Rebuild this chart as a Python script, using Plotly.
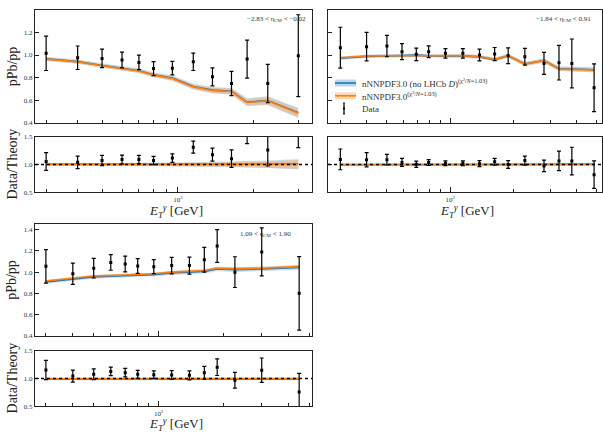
import math
import plotly.graph_objects as go

FONT = "Liberation Serif"
W, H = 603, 435

# ---------------- data ----------------
# Panel 1: -2.83 < eta_CM < -0.02
x1 = [30, 40, 50, 60, 70, 80, 95, 115, 137, 163, 188, 227, 300]
d1 = [1.015, 0.976, 0.970, 0.956, 0.935, 0.880, 0.884, 0.940, 0.807, 0.748, 0.964, 0.748, 0.994]
e1 = [0.152, 0.104, 0.082, 0.070, 0.064, 0.062, 0.060, 0.077, 0.080, 0.107, 0.168, 0.170, 0.363]
to1 = [0.964, 0.940, 0.905, 0.878, 0.858, 0.822, 0.793, 0.718, 0.686, 0.677, 0.580, 0.594, 0.485]
tb1 = [0.966, 0.942, 0.908, 0.880, 0.861, 0.825, 0.796, 0.721, 0.689, 0.680, 0.583, 0.597, 0.488]
uo1 = [0.015, 0.015, 0.015, 0.016, 0.017, 0.018, 0.020, 0.022, 0.024, 0.026, 0.030, 0.035, 0.040]
ub1 = [0.019, 0.019, 0.019, 0.020, 0.021, 0.022, 0.024, 0.026, 0.028, 0.030, 0.034, 0.039, 0.044]

# Panel 2: -1.84 < eta_CM < 0.91
x2 = [30, 40, 50, 59, 69, 79, 95, 115, 138, 163, 189, 227, 280, 330, 380, 485]
d2 = [1.065, 1.074, 1.080, 1.030, 1.006, 1.030, 1.015, 1.015, 1.000, 1.009, 0.994, 0.985, 0.926, 0.932, 0.926, 0.710]
e2 = [0.181, 0.126, 0.095, 0.071, 0.056, 0.052, 0.042, 0.042, 0.052, 0.058, 0.070, 0.074, 0.098, 0.153, 0.216, 0.212]
to2 = [0.976, 0.991, 0.994, 0.994, 1.000, 0.994, 0.994, 0.994, 0.985, 0.961, 0.994, 0.920, 0.950, 0.876, 0.873, 0.867]
tb2 = [0.972, 0.988, 0.992, 0.993, 0.999, 0.993, 0.993, 0.993, 0.984, 0.960, 0.993, 0.921, 0.951, 0.879, 0.876, 0.870]
uo2 = [0.012, 0.012, 0.012, 0.012, 0.012, 0.012, 0.013, 0.013, 0.014, 0.014, 0.015, 0.016, 0.017, 0.018, 0.019, 0.020]
ub2 = [0.015, 0.015, 0.015, 0.015, 0.015, 0.015, 0.016, 0.016, 0.017, 0.017, 0.018, 0.019, 0.020, 0.021, 0.022, 0.023]

# Panel 3: 1.09 < eta_CM < 1.90
x3 = [30, 40, 50, 60, 70, 80, 95, 115, 139, 163, 187, 226, 301, 449]
d3 = [1.055, 0.985, 1.037, 1.092, 1.077, 1.058, 1.052, 1.062, 1.062, 1.117, 1.246, 1.000, 1.191, 0.800]
e3 = [0.158, 0.100, 0.092, 0.074, 0.074, 0.070, 0.066, 0.078, 0.080, 0.116, 0.154, 0.145, 0.226, 0.347]
to3 = [0.917, 0.945, 0.963, 0.969, 0.975, 0.985, 0.985, 1.000, 1.006, 1.015, 1.037, 1.031, 1.037, 1.052]
tb3 = [0.908, 0.936, 0.955, 0.961, 0.967, 0.977, 0.977, 0.992, 0.998, 1.007, 1.029, 1.023, 1.029, 1.044]
uo3 = [0.010, 0.010, 0.010, 0.010, 0.010, 0.010, 0.010, 0.011, 0.011, 0.012, 0.013, 0.014, 0.015, 0.016]
ub3 = [0.018, 0.018, 0.018, 0.018, 0.018, 0.018, 0.018, 0.019, 0.019, 0.020, 0.021, 0.022, 0.023, 0.024]

labels = ["−2.83 &lt; η<sub>CM</sub> &lt; −0.02",
          "−1.84 &lt; η<sub>CM</sub> &lt; 0.91",
          "1.09 &lt; η<sub>CM</sub> &lt; 1.90"]
leg_blue = "nNNPDF3.0 (no LHCb <i>D</i>)<sup>(χ²/<i>N</i>=1.03)</sup>"
leg_orange = "nNNPDF3.0<sup>(χ²/<i>N</i>=1.03)</sup>"
leg_data = "Data"

BLUE = "#1f77b4"
ORANGE = "#ff7f0e"
BLUE_F = "rgba(31,119,180,0.22)"
ORANGE_F = "rgba(255,127,14,0.28)"

# ---------------- layout geometry (pixels) ----------------
def fx(px):
    return px / W

def fy(py):
    return 1 - py / H

panels = [
    dict(x=x1, d=d1, e=e1, to=to1, tb=tb1, uo=uo1, ub=ub1, lab=labels[0],
         xd=(35, 312), ym=(6, 121), yr=(135, 192), xrange=(27.1, 340),
         yrange=(0.4, 1.4), yt=[0.4, 0.6, 0.8, 1.0, 1.2], ylab=True,
         labpos=(308, 15), xt_y=211),
    dict(x=x2, d=d2, e=e2, to=to2, tb=tb2, uo=uo2, ub=ub2, lab=labels[1],
         xd=(328, 602), ym=(6, 121), yr=(135, 192), xrange=(26.2, 529),
         yrange=(0.4, 1.4), yt=[0.4, 0.6, 0.8, 1.0, 1.2], ylab=False,
         labpos=(593, 15), xt_y=211),
    dict(x=x3, d=d3, e=e3, to=to3, tb=tb3, uo=uo3, ub=ub3, lab=labels[2],
         xd=(35, 312), ym=(224, 338), yr=(353, 410), xrange=(26.7, 515),
         yrange=(0.4, 1.455), yt=[0.4, 0.6, 0.8, 1.0, 1.2, 1.4], ylab=True,
         labpos=(293, 234), xt_y=428),
]

fig = go.Figure()
layout = dict(width=W, height=H, margin=dict(l=0, r=0, t=0, b=0),
              paper_bgcolor="white", plot_bgcolor="white", showlegend=False,
              font=dict(family=FONT, color="#222"))
shapes = []
annotations = []

minor_vals = [20, 30, 40, 50, 60, 70, 80, 90, 200, 300, 400, 500]

def axis_common():
    return dict(showgrid=False, zeroline=False, showline=True, linecolor="#222",
                linewidth=1.3, mirror=True, ticks="inside", tickcolor="#222",
                tickwidth=1, tickfont=dict(family=FONT, size=7, color="#333"))

def band(x, c, u):
    up = [a + b for a, b in zip(c, u)]
    lo = [a - b for a, b in zip(c, u)]
    return x + x[::-1], up + lo[::-1]

for i, p in enumerate(panels):
    km = 2 * i + 1
    kr = 2 * i + 2
    xm = "x" if km == 1 else f"x{km}"
    ym = "y" if km == 1 else f"y{km}"
    xr, yr = f"x{kr}", f"y{kr}"
    xdom = [fx(p["xd"][0]), fx(p["xd"][1])]
    xrng = [math.log10(p["xrange"][0]), math.log10(p["xrange"][1])]

    for k, xa, ya_, dom, main in ((km, xm, ym, p["ym"], True), (kr, xr, yr, p["yr"], False)):
        ax = axis_common()
        ax.update(type="log", domain=xdom, range=xrng, anchor=ya_,
                  tickvals=[100], ticktext=["10<sup>2</sup>"], ticklen=5,
                  showticklabels=not main, ticklabelstandoff=0,
                  minor=dict(tickvals=minor_vals, ticklen=3, ticks="inside",
                             tickcolor="#222", tickwidth=1))
        ay = axis_common()
        if main:
            ay.update(range=list(p["yrange"]), tickvals=p["yt"],
                      ticktext=[f"{v:.1f}" for v in p["yt"]])
        else:
            ay.update(range=[0.5, 1.5], tickvals=[0.5, 1.0, 1.5],
                      ticktext=["0.5", "1.0", "1.5"])
        ay.update(domain=[fy(dom[1]), fy(dom[0])], anchor=xa, ticklen=4,
                  showticklabels=p["ylab"])
        layout["xaxis" if k == 1 else f"xaxis{k}"] = ax
        layout["yaxis" if k == 1 else f"yaxis{k}"] = ay

    x = p["x"]
    # main panel theory bands and lines
    bx, by = band(x, p["tb"], p["ub"])
    fig.add_trace(go.Scatter(x=bx, y=by, fill="toself", fillcolor=BLUE_F,
                             line=dict(width=0), mode="lines", hoverinfo="skip",
                             xaxis=xm, yaxis=ym))
    bx, by = band(x, p["to"], p["uo"])
    fig.add_trace(go.Scatter(x=bx, y=by, fill="toself", fillcolor=ORANGE_F,
                             line=dict(width=0), mode="lines", hoverinfo="skip",
                             xaxis=xm, yaxis=ym))
    fig.add_trace(go.Scatter(x=x, y=p["tb"], mode="lines",
                             line=dict(color=BLUE, width=1.6), xaxis=xm, yaxis=ym))
    fig.add_trace(go.Scatter(x=x, y=p["to"], mode="lines",
                             line=dict(color=ORANGE, width=1.6), xaxis=xm, yaxis=ym))
    fig.add_trace(go.Scatter(x=x, y=p["d"], mode="markers",
                             marker=dict(color="black", size=3, symbol="square"),
                             error_y=dict(type="data", array=p["e"], color="black",
                                          thickness=1.2, width=2),
                             xaxis=xm, yaxis=ym))

    # ratio panel
    rb = [b / o for b, o in zip(p["tb"], p["to"])]
    rub = [u / o for u, o in zip(p["ub"], p["to"])]
    ro = [1.0 for _ in p["to"]]
    ruo = [u / o for u, o in zip(p["uo"], p["to"])]
    bx, by = band(x, rb, rub)
    fig.add_trace(go.Scatter(x=bx, y=by, fill="toself", fillcolor=BLUE_F,
                             line=dict(width=0), mode="lines", hoverinfo="skip",
                             xaxis=xr, yaxis=yr))
    bx, by = band(x, ro, ruo)
    fig.add_trace(go.Scatter(x=bx, y=by, fill="toself", fillcolor=ORANGE_F,
                             line=dict(width=0), mode="lines", hoverinfo="skip",
                             xaxis=xr, yaxis=yr))
    fig.add_trace(go.Scatter(x=x, y=rb, mode="lines",
                             line=dict(color=BLUE, width=1.6), xaxis=xr, yaxis=yr))
    fig.add_trace(go.Scatter(x=x, y=ro, mode="lines",
                             line=dict(color=ORANGE, width=1.6), xaxis=xr, yaxis=yr))
    rd = [a / o for a, o in zip(p["d"], p["to"])]
    re = [a / o for a, o in zip(p["e"], p["to"])]
    fig.add_trace(go.Scatter(x=x, y=rd, mode="markers",
                             marker=dict(color="black", size=3, symbol="square"),
                             error_y=dict(type="data", array=re, color="black",
                                          thickness=1.2, width=2),
                             xaxis=xr, yaxis=yr, cliponaxis=True))
    shapes.append(dict(type="line", xref=f"{xr} domain", yref=yr, x0=0, x1=1,
                       y0=1, y1=1, line=dict(color="black", width=1.5, dash="dot"),
                       layer="above"))

    # texts
    annotations.append(dict(text=p["lab"], x=fx(p["labpos"][0]), y=fy(p["labpos"][1]),
                            xref="paper", yref="paper", xanchor="right", yanchor="middle",
                            showarrow=False, font=dict(family=FONT, size=7, color="#333")))
    xc = (p["xd"][0] + p["xd"][1]) / 2 + 2
    annotations.append(dict(text="<i>E</i><sub><i>T</i></sub><sup><i>γ</i></sup> [GeV]",
                            x=fx(xc), y=fy(p["xt_y"]), xref="paper", yref="paper",
                            xanchor="center", yanchor="middle", showarrow=False,
                            font=dict(family=FONT, size=13, color="#222")))
    if p["ylab"]:
        annotations.append(dict(text="pPb/pp", x=fx(12), y=fy((p["ym"][0] + p["ym"][1]) / 2),
                                xref="paper", yref="paper", textangle=-90,
                                xanchor="center", yanchor="middle", showarrow=False,
                                font=dict(family=FONT, size=14, color="#222")))
        annotations.append(dict(text="Data/Theory", x=fx(12), y=fy((p["yr"][0] + p["yr"][1]) / 2),
                                xref="paper", yref="paper", textangle=-90,
                                xanchor="center", yanchor="middle", showarrow=False,
                                font=dict(family=FONT, size=14, color="#222")))

# ---------------- manual legend in panel 2 ----------------
def rect(x0, y0, x1, y1, fill):
    return dict(type="rect", xref="paper", yref="paper", x0=fx(x0), x1=fx(x1),
                y0=fy(y1), y1=fy(y0), fillcolor=fill, line=dict(width=0))

def hline(x0, x1, y, color, w):
    return dict(type="line", xref="paper", yref="paper", x0=fx(x0), x1=fx(x1),
                y0=fy(y), y1=fy(y), line=dict(color=color, width=w))

def vline(x, y0, y1, color, w):
    return dict(type="line", xref="paper", yref="paper", x0=fx(x), x1=fx(x),
                y0=fy(y0), y1=fy(y1), line=dict(color=color, width=w))

shapes += [rect(335, 77, 356, 84, "rgba(31,119,180,0.3)"), hline(335, 356, 80.5, BLUE, 1.6),
           rect(335, 90, 356, 97, "rgba(255,127,14,0.3)"), hline(335, 356, 93.5, ORANGE, 1.6),
           vline(344, 101, 112, "black", 1.2), hline(343, 345, 101, "black", 1),
           hline(343, 345, 112, "black", 1), rect(343, 105.5, 345, 107.5, "black")]
for txt, yy in ((leg_blue, 80.5), (leg_orange, 93.5), (leg_data, 106.5)):
    annotations.append(dict(text=txt, x=fx(360), y=fy(yy), xref="paper", yref="paper",
                            xanchor="left", yanchor="middle", showarrow=False,
                            font=dict(family=FONT, size=9, color="#333")))

layout["shapes"] = shapes
layout["annotations"] = annotations
fig.update_layout(**layout)
fig.write_html("out.html")
